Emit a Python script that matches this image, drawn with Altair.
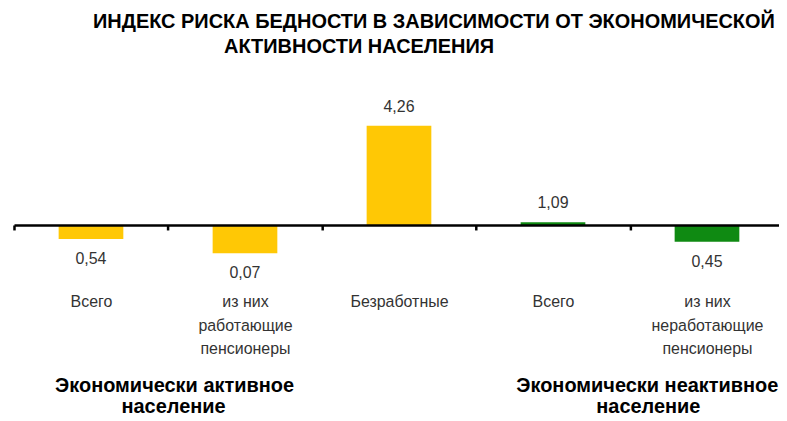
import altair as alt
import pandas as pd

categories = ["Всего", "из них|работающие|пенсионеры", "Безработные", "Всего ", "из них|неработающие|пенсионеры"]
values = [0.54, 0.07, 4.26, 1.09, 0.45]
groups = ["active", "active", "active", "inactive", "inactive"]

title_lines = ["ИНДЕКС РИСКА БЕДНОСТИ В ЗАВИСИМОСТИ ОТ ЭКОНОМИЧЕСКОЙ", "АКТИВНОСТИ НАСЕЛЕНИЯ"]
group_labels = [["Экономически активное", "население"], ["Экономически неактивное", "население"]]

df = pd.DataFrame({"cat": categories, "value": values, "group": groups})

W, H = 773, 413
FONT = "Liberation Sans, Arial, sans-serif"

xscale = alt.Scale(domain=categories, range=[6, 778], paddingInner=0, paddingOuter=0)
# zero line at chart y=217, ~30.5 px per unit
yscale = alt.Scale(domain=[-(H - 217) / 30.5, 217 / 30.5], nice=False, zero=False)
color = alt.Color("group:N", scale=alt.Scale(domain=["active", "inactive"], range=["#FFC805", "#0F8A12"]), legend=None)

base = alt.Chart(df).transform_calculate(
    dev="datum.value - 1",
    lab="replace(format(datum.value, '.2f'), '.', ',')",
)

bars = base.mark_bar(width=alt.RelativeBandSize(0.42)).encode(
    x=alt.X("cat:N", scale=xscale, sort=categories, axis=alt.Axis(
        orient="bottom", offset=-(H - 217), title=None, labelAngle=0, labelLimit=0,
        labelExpr="split(datum.label, '|')", labelFont=FONT, labelFontSize=16,
        labelColor="#333333", labelLineHeight=23.5, labelBaseline="top",
        labelPadding=64, tickSize=5, tickWidth=2.5, tickColor="#000000",
        domainColor="#000000", domainWidth=2.5, tickBand="extent", zindex=1,
    )),
    y=alt.Y("dev:Q", scale=yscale, axis=None),
    color=color,
)

pos_labels = base.transform_filter("datum.dev >= 0").mark_text(
    font=FONT, fontSize=16, color="#333333", baseline="middle", dy=-19
).encode(
    x=alt.X("cat:N", scale=xscale, sort=categories, axis=None),
    y=alt.Y("dev:Q", scale=yscale, axis=None),
    text="lab:N",
)

neg_labels = base.transform_filter("datum.dev < 0").mark_text(
    font=FONT, fontSize=16, color="#333333", baseline="middle", dy=20
).encode(
    x=alt.X("cat:N", scale=xscale, sort=categories, axis=None),
    y=alt.Y("dev:Q", scale=yscale, axis=None),
    text="lab:N",
)

ann = pd.DataFrame({
    "text": [title_lines[0], title_lines[1], group_labels[0][0], group_labels[0][1], group_labels[1][0], group_labels[1][1]],
    "px": [427, 352, 167, 166, 641, 642],
    "py": [14, 39, 378, 400, 378, 400],
})

annot = alt.Chart(ann).mark_text(
    font=FONT, fontSize=20, fontWeight="bold", color="#000000", baseline="middle", align="center"
).encode(
    x=alt.X("px:Q", scale=alt.Scale(domain=[0, W], range=[0, W]), axis=None),
    y=alt.Y("py:Q", scale=alt.Scale(domain=[0, H], range=[0, H]), axis=None),
    text="text:N",
)

chart = alt.layer(bars, pos_labels, neg_labels, annot).resolve_scale(
    x="independent", y="independent"
).properties(
    width=W, height=H, autosize=alt.AutoSizeParams(type="none"), padding=0,
    background="#FFFFFF",
).configure_view(stroke=None)

chart.save("out.html", embed_options={"renderer": "svg", "actions": False})
